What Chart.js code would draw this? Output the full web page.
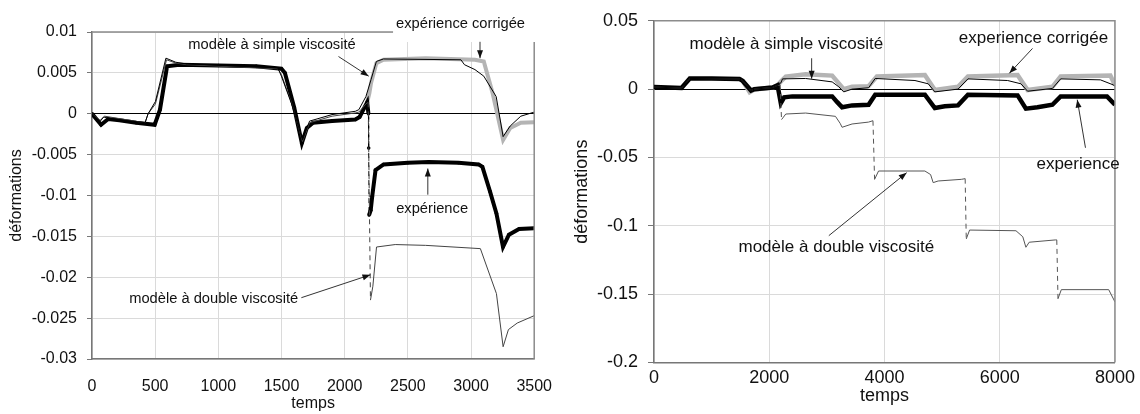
<!DOCTYPE html>
<html>
<head>
<meta charset="utf-8">
<script src="https://cdn.jsdelivr.net/npm/chart.js@4.4.1/dist/chart.umd.min.js"></script>
<style>
html, body { margin: 0; padding: 0; background: #fff; }
#wrap { position: relative; width: 1140px; height: 414px; }
.box { position: absolute; top: 0; width: 570px; height: 414px; }
</style>
</head>
<body>
<div id="wrap">
  <div class="box" style="left:0"><canvas id="left" width="570" height="414"></canvas></div>
  <div class="box" style="left:570px"><canvas id="right" width="570" height="414"></canvas></div>
</div>
<script>
// ---- left graph (0 - 3500) ----
var leftXTicks = [0, 500, 1000, 1500, 2000, 2500, 3000, 3500];
var leftYTicks = [0.01, 0.005, 0, -0.005, -0.01, -0.015, -0.02, -0.025, -0.03];

var leftExpT = [0, 72, 128, 217, 350, 496, 538, 594, 691, 1000, 1300, 1499, 1527, 1600, 1661, 1700, 1750, 1900, 2084, 2118, 2178, 2188, 2190, 2193, 2206, 2218, 2244, 2308, 2500, 2665, 2900, 3060, 3090, 3150, 3201, 3253, 3300, 3380, 3500];
var leftExpV = [0, -0.00135, -0.00065, -0.0008, -0.0011, -0.00135, 0.0005, 0.0058, 0.006, 0.0059, 0.0058, 0.0055, 0.005, 0.0008, -0.0036, -0.00175, -0.0011, -0.0009, -0.0007, -0.0004, 0.0014, 0.0, -0.0042, -0.0124, -0.0118, -0.0101, -0.0069, -0.0062, -0.006, -0.0059, -0.006, -0.0062, -0.0065, -0.0095, -0.0122, -0.0163, -0.0148, -0.0141, -0.014];

var leftCorT = [2178, 2195, 2209, 2251, 2307, 2641, 3031, 3101, 3171, 3254, 3310, 3394, 3500];
var leftCorV = [0.0014, 0.0025, 0.0038, 0.0062, 0.0066, 0.0068, 0.0066, 0.0064, 0.0025, -0.0032, -0.00175, -0.0011, -0.00105];

var leftSimT = [0, 64, 92, 150, 420, 444, 502, 585, 663, 746, 1471, 1499, 1580, 1666, 1722, 1900, 2084, 2112, 2168, 2209, 2251, 2307, 2920, 2948, 3031, 3101, 3199, 3254, 3310, 3394, 3500];
var leftSimV = [0, -0.00094, -0.0004, -0.0006, -0.0011, 0, 0.0015, 0.0068, 0.0063, 0.0061, 0.0056, 0.0046, 0.0012, -0.0032, -0.0009, -0.0001, 0.0003, 0.0005, 0.0021, 0.0042, 0.0064, 0.0067, 0.0066, 0.006, 0.0054, 0.0046, 0.0021, -0.0028, -0.0015, -0.0003, 0.0002];

var leftDblT = [0, 64, 100, 420, 444, 502, 590, 663, 746, 1471, 1499, 1580, 1666, 1722, 1900, 2084, 2112, 2168, 2186, 2204, 2223, 2252, 2400, 2641, 3074, 3120, 3201, 3254, 3296, 3366, 3500];
var leftDblV = [0, -0.0008, -0.0003, -0.0011, 0, 0.0012, 0.0066, 0.0062, 0.006, 0.0055, 0.0048, 0.0013, -0.0034, -0.0011, -0.0003, 0.0001, 0.0002, 0.0012, 0.0014, -0.0228, -0.0211, -0.0163, -0.016, -0.0161, -0.0165, -0.0185, -0.022, -0.0285, -0.0264, -0.0256, -0.0247];

// ---- right graph (0 - 8000) ----
var rightXTicks = [0, 2000, 4000, 6000, 8000];
var rightYTicks = [0.05, 0, -0.05, -0.1, -0.15, -0.2];

var rightExpT = [0, 477, 621, 1000, 1483, 1540, 1684, 1741, 2057, 2144, 2201, 2259, 2402, 3092, 3180, 3264, 3437, 3724, 3839, 4701, 4874, 5046, 5276, 5448, 6310, 6454, 6655, 6914, 7057, 7862, 8000];
var rightExpV = [0.0015, 0.0008, 0.0078, 0.0078, 0.0075, 0.006, -0.001, 0.0, 0.0012, 0.0028, -0.0102, -0.006, -0.0053, -0.0053, -0.0095, -0.0133, -0.0119, -0.0114, -0.0041, -0.0041, -0.0138, -0.0126, -0.0119, -0.0041, -0.0046, -0.0143, -0.0133, -0.0114, -0.0053, -0.0053, -0.0114];

var rightCorT = [1483, 1540, 1660, 1741, 2057, 2144, 2201, 2287, 2632, 3092, 3293, 3437, 3724, 3868, 4701, 4874, 5276, 5448, 6310, 6483, 6914, 7057, 7920, 8000];
var rightCorV = [0.0075, 0.006, -0.0022, -0.0003, 0.0012, 0.0028, 0.0056, 0.0092, 0.0109, 0.0099, 0.0, 0.0017, 0.0022, 0.0092, 0.0104, -0.0007, 0.0017, 0.0092, 0.0104, -0.0007, 0.0017, 0.0092, 0.0099, 0.003];

var rightSimT = [0, 477, 621, 1483, 1540, 1684, 1741, 2057, 2144, 2201, 2230, 2632, 3092, 3207, 3293, 3437, 3724, 3839, 4529, 4759, 4874, 5276, 5448, 6138, 6368, 6483, 6914, 7057, 7747, 7977, 8000];
var rightSimV = [0.0015, 0.0008, 0.0078, 0.0075, 0.006, -0.001, 0.0, 0.0012, 0.0028, 0.0045, 0.0075, 0.0078, 0.0053, 0.0017, -0.002, 0.0, 0.001, 0.0078, 0.0063, 0.0039, -0.002, 0.0, 0.0075, 0.0063, 0.0039, -0.0015, 0.0005, 0.0075, 0.0068, 0.003, 0.002];

var rightDblT = [0, 477, 621, 1483, 1540, 1684, 1741, 2057, 2144, 2190, 2213, 2287, 2632, 3149, 3230, 3264, 3437, 3724, 3800, 3828, 3897, 4701, 4800, 4845, 4931, 5333, 5400, 5419, 5477, 6282, 6400, 6454, 6511, 6971, 6990, 7011, 7069, 7891, 8000];
var rightDblV = [0.0015, 0.0008, 0.0078, 0.0075, 0.006, -0.001, 0.0, 0.0012, 0.0028, 0.003, -0.0223, -0.0182, -0.0175, -0.0199, -0.025, -0.0279, -0.0255, -0.0241, -0.0231, -0.066, -0.0599, -0.0599, -0.0625, -0.0684, -0.0672, -0.066, -0.0655, -0.1096, -0.1031, -0.1036, -0.108, -0.1157, -0.112, -0.1103, -0.1103, -0.1533, -0.1467, -0.1467, -0.1557];

var FONT = '"Liberation Sans", Arial, sans-serif';

function pts(ts, vs) {
  return ts.map(function (t, i) { return { x: t, y: vs[i] }; });
}

// near-vertical jumps are drawn thin and dashed, like in the original
function steep(ctx) {
  var dx = ctx.p1.parsed.x - ctx.p0.parsed.x;
  var dy = ctx.p1.parsed.y - ctx.p0.parsed.y;
  return Math.abs(dy) / Math.max(dx, 1e-9) > 8e-4;
}

function series(data, color, width, order, dots) {
  return {
    data: data,
    borderColor: color,
    backgroundColor: color,
    borderWidth: width,
    order: order,
    pointRadius: dots || 0,
    pointBorderWidth: 0,
    fill: false,
    segment: {
      borderDash: function (ctx) { return steep(ctx) ? [5, 4] : undefined; },
      borderWidth: function (ctx) { return steep(ctx) ? 1 : undefined; }
    }
  };
}

function notesPlugin(notes, size, mask) {
  return {
    id: 'notes',
    afterDraw: function (chart) {
      var c = chart.ctx, a = chart.chartArea, xs = chart.scales.x, ys = chart.scales.y;
      c.save();
      // top and right frame
      c.strokeStyle = '#8c8c8c';
      c.lineWidth = 1.5;
      c.beginPath();
      c.moveTo(a.left, a.top);
      c.lineTo(a.right, a.top);
      c.lineTo(a.right, a.bottom);
      c.stroke();
      c.font = size + 'px ' + FONT;
      c.textAlign = 'center';
      c.textBaseline = 'middle';
      notes.forEach(function (n) {
        var tx = xs.getPixelForValue(n.at[0]), ty = ys.getPixelForValue(n.at[1]);
        if (n.mask) {
          var w = c.measureText(n.text).width;
          c.fillStyle = '#fff';
          c.fillRect(tx - w / 2 - 3, 0, a.right + 4 - (tx - w / 2 - 3), a.top + 10);
        }
        c.fillStyle = '#111';
        c.fillText(n.text, tx, ty);
        var x0 = xs.getPixelForValue(n.from[0]), y0 = ys.getPixelForValue(n.from[1]);
        var x1 = xs.getPixelForValue(n.to[0]), y1 = ys.getPixelForValue(n.to[1]);
        c.strokeStyle = '#333';
        c.lineWidth = 1;
        c.beginPath();
        c.moveTo(x0, y0);
        c.lineTo(x1, y1);
        c.stroke();
        var ang = Math.atan2(y1 - y0, x1 - x0), L = 8, W = 3;
        c.fillStyle = '#111';
        c.beginPath();
        c.moveTo(x1, y1);
        c.lineTo(x1 - L * Math.cos(ang) + W * Math.sin(ang), y1 - L * Math.sin(ang) - W * Math.cos(ang));
        c.lineTo(x1 - L * Math.cos(ang) - W * Math.sin(ang), y1 - L * Math.sin(ang) + W * Math.cos(ang));
        c.closePath();
        c.fill();
      });
      c.restore();
    }
  };
}

function options(o) {
  return {
    responsive: false,
    animation: false,
    layout: { padding: { left: 0, right: o.padR, top: o.padT, bottom: 0 } },
    plugins: { legend: { display: false }, tooltip: { enabled: false } },
    elements: { line: { tension: 0 } },
    scales: {
      x: {
        type: 'linear',
        min: o.xTicks[0],
        max: o.xTicks[o.xTicks.length - 1],
        afterBuildTicks: function (s) { s.ticks = o.xTicks.map(function (v) { return { value: v }; }); },
        afterFit: function (s) { s.height = o.xH; },
        ticks: {
          font: { family: FONT, size: o.fs }, color: '#111', padding: o.xPad,
          autoSkip: false, maxRotation: 0,
          callback: function (v) { return String(v); }
        },
        grid: { color: '#dadada', drawTicks: false },
        border: { color: '#777', width: 1.5 },
        title: { display: true, text: 'temps', color: '#111', font: { family: FONT, size: o.ts }, padding: { top: 0, bottom: o.xtPad } }
      },
      y: {
        type: 'linear',
        min: o.yTicks[o.yTicks.length - 1],
        max: o.yTicks[0],
        afterBuildTicks: function (s) { s.ticks = o.yTicks.slice().reverse().map(function (v) { return { value: v }; }); },
        afterFit: function (s) { s.width = o.yW; },
        ticks: {
          font: { family: FONT, size: o.fs }, color: '#111', padding: 10,
          callback: function (v) { return String(v); }
        },
        grid: {
          color: function (ctx) { return ctx.tick && ctx.tick.value === 0 ? '#000' : '#dadada'; },
          tickColor: '#777', tickLength: o.tl
        },
        border: { color: '#777', width: 1.5 },
        title: { display: true, text: 'déformations', color: '#111', font: { family: FONT, size: o.ts }, padding: { top: o.ytPad, bottom: 0 } }
      }
    }
  };
}

new Chart(document.getElementById('left'), {
  type: 'line',
  data: {
    datasets: [
      series(pts(leftSimT, leftSimV), '#000', 1, 1),
      series(pts(leftDblT, leftDblV), '#444', 1, 2),
      series(pts(leftExpT, leftExpV), '#000', 4, 3, 1.8),
      series(pts(leftCorT, leftCorV), '#b4b4b4', 4, 4)
    ]
  },
  options: options({ xTicks: leftXTicks, yTicks: leftYTicks, padR: 21, padT: 32, xH: 55, yW: 92, fs: 16, ts: 16, xPad: 18, xtPad: 1, ytPad: 7, tl: 5 }),
  plugins: [notesPlugin([
    { text: 'modèle à simple viscosité', at: [1425, 0.0084], from: [1951, 0.0070], to: [2190, 0.0046] },
    { text: 'expérience corrigée', at: [2917, 0.0110], from: [3071, 0.0088], to: [3071, 0.0068], mask: true },
    { text: 'expérience', at: [2692, -0.0116], from: [2658, -0.0099], to: [2658, -0.0067] },
    { text: 'modèle à double viscosité', at: [963, -0.0227], from: [1657, -0.0225], to: [2204, -0.0197] }
  ], 14.7)]
});

new Chart(document.getElementById('right'), {
  type: 'line',
  data: {
    datasets: [
      series(pts(rightSimT, rightSimV), '#000', 1, 1),
      series(pts(rightDblT, rightDblV), '#555', 1, 2),
      series(pts(rightExpT, rightExpV), '#000', 4.5, 3),
      series(pts(rightCorT, rightCorV), '#b4b4b4', 4.5, 4)
    ]
  },
  options: options({ xTicks: rightXTicks, yTicks: rightYTicks, padR: 22, padT: 19, xH: 51.5, yW: 84, fs: 18, ts: 18, xPad: 5, xtPad: 7, ytPad: 1, tl: 6 }),
  plugins: [notesPlugin([
    { text: 'modèle à simple viscosité', at: [2297, 0.0328], from: [2736, 0.0226], to: [2736, 0.0076] },
    { text: 'experience corrigée', at: [6586, 0.0371], from: [6569, 0.0298], to: [6167, 0.0116] },
    { text: 'experience', at: [7359, -0.055], from: [7488, -0.0429], to: [7345, -0.0077] },
    { text: 'modèle à double viscosité', at: [3164, -0.1157], from: [3034, -0.1072], to: [4385, -0.0611] }
  ], 17)]
});
</script>
</body>
</html>
